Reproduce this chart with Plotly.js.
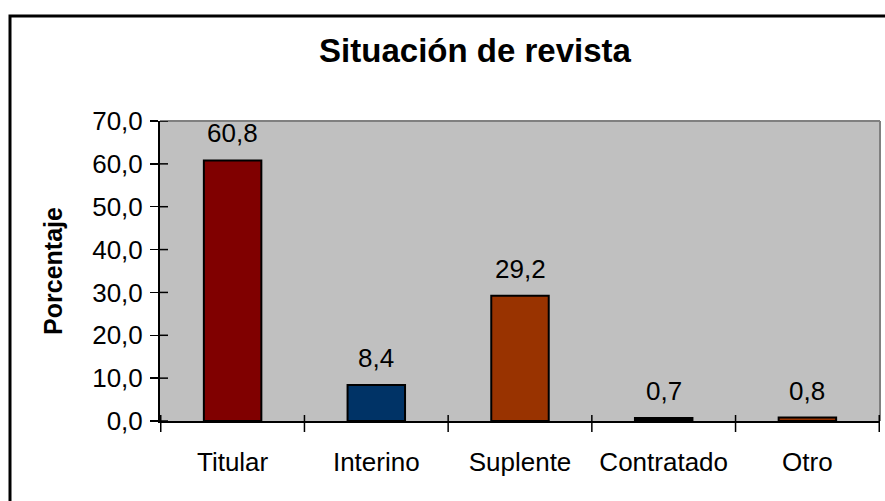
<!DOCTYPE html>
<html><head><meta charset="utf-8">
<script src="https://cdn.plot.ly/plotly-3.0.1.min.js"></script>
<style>html,body{margin:0;padding:0;background:#fff}#c{width:885px;height:501px}</style>
</head><body><div id="c"></div>
<script>
const categories = ["Titular", "Interino", "Suplente", "Contratado", "Otro"];
const values = [60.8, 8.4, 29.2, 0.7, 0.8];
const labels = ["60,8", "8,4", "29,2", "0,7", "0,8"];
const colors = ["#800000", "#003366", "#993300", "#000000", "#993300"];
const yTicks = [0, 10, 20, 30, 40, 50, 60, 70];

const L = 160, R = 885 - 880, T = 121, B = 501 - 421;
const W = 885 - L - R, H = 501 - T - B;
const px = x => (x - L) / W;
const py = y => (501 - B - y) / H;

const FONT = "Liberation Sans, Arial, sans-serif";

const trace = {
  type: "bar", x: categories, y: values,
  marker: {color: colors, line: {color: "#000", width: 2}},
  width: 0.4,
  hoverinfo: "none"
};

const layout = {
  width: 885, height: 501,
  margin: {l: L, r: R, t: T, b: B, pad: 0},
  paper_bgcolor: "#fff", plot_bgcolor: "#C0C0C0",
  separators: ",.",
  showlegend: false,
  font: {family: FONT, color: "#000"},
  title: {text: "<b>Situación de revista</b>", font: {size: 33, color: "#000"},
          x: px(475), xanchor: "center", xref: "paper", y: 1 - 50/501, yanchor: "middle"},
  xaxis: {
    type: "category", showgrid: false, zeroline: false,
    showline: true, linecolor: "#000", linewidth: 2,
    ticks: "outside", ticklen: 0, showticklabels: true,
    tickfont: {size: 26, color: "#000"},
    ticklabelstandoff: 17,
    fixedrange: true
  },
  yaxis: {
    range: [0, 70], tickvals: yTicks, tickformat: ".1f",
    showgrid: false, zeroline: false,
    showline: true, linecolor: "#000", linewidth: 2,
    ticks: "outside", ticklen: 8, tickwidth: 1.5, tickcolor: "#000",
    tickfont: {size: 26, color: "#000"},
    ticklabelstandoff: 2,
    title: {text: "<b>Porcentaje</b>", font: {size: 25, color: "#000"}, standoff: 22},
    fixedrange: true
  },
  annotations: categories.map((c, i) => ({
    x: c, y: values[i], xref: "x", yref: "y", text: labels[i],
    showarrow: false, xanchor: "center", yanchor: "bottom", yshift: 10,
    font: {family: FONT, size: 26, color: "#000"}
  })),
  shapes: [
    {type: "rect", xref: "paper", yref: "paper",
     x0: px(10), x1: px(900), y0: py(520), y1: py(16),
     line: {color: "#000", width: 3}, fillcolor: "rgba(0,0,0,0)", layer: "below"},
    {type: "line", xref: "paper", yref: "paper", x0: 0, x1: 1, y0: 1, y1: 1,
     line: {color: "#808080", width: 2}},
    {type: "line", xref: "paper", yref: "paper", x0: 1, x1: 1, y0: 0, y1: 1,
     line: {color: "#808080", width: 2}}
  ]
};

yTicks.forEach(v => layout.shapes.push({
  type: "line", xref: "paper", yref: "y", x0: 0, x1: px(168), y0: v, y1: v,
  line: {color: "#000", width: 1.5}
}));
for (let i = 0; i <= categories.length; i++) {
  layout.shapes.push({
    type: "line", xref: "x", yref: "paper", x0: i - 0.5, x1: i - 0.5,
    y0: py(432), y1: py(415), line: {color: "#000", width: 1.5}
  });
}

Plotly.newPlot("c", [trace], layout, {displayModeBar: false, staticPlot: true});
</script></body></html>
